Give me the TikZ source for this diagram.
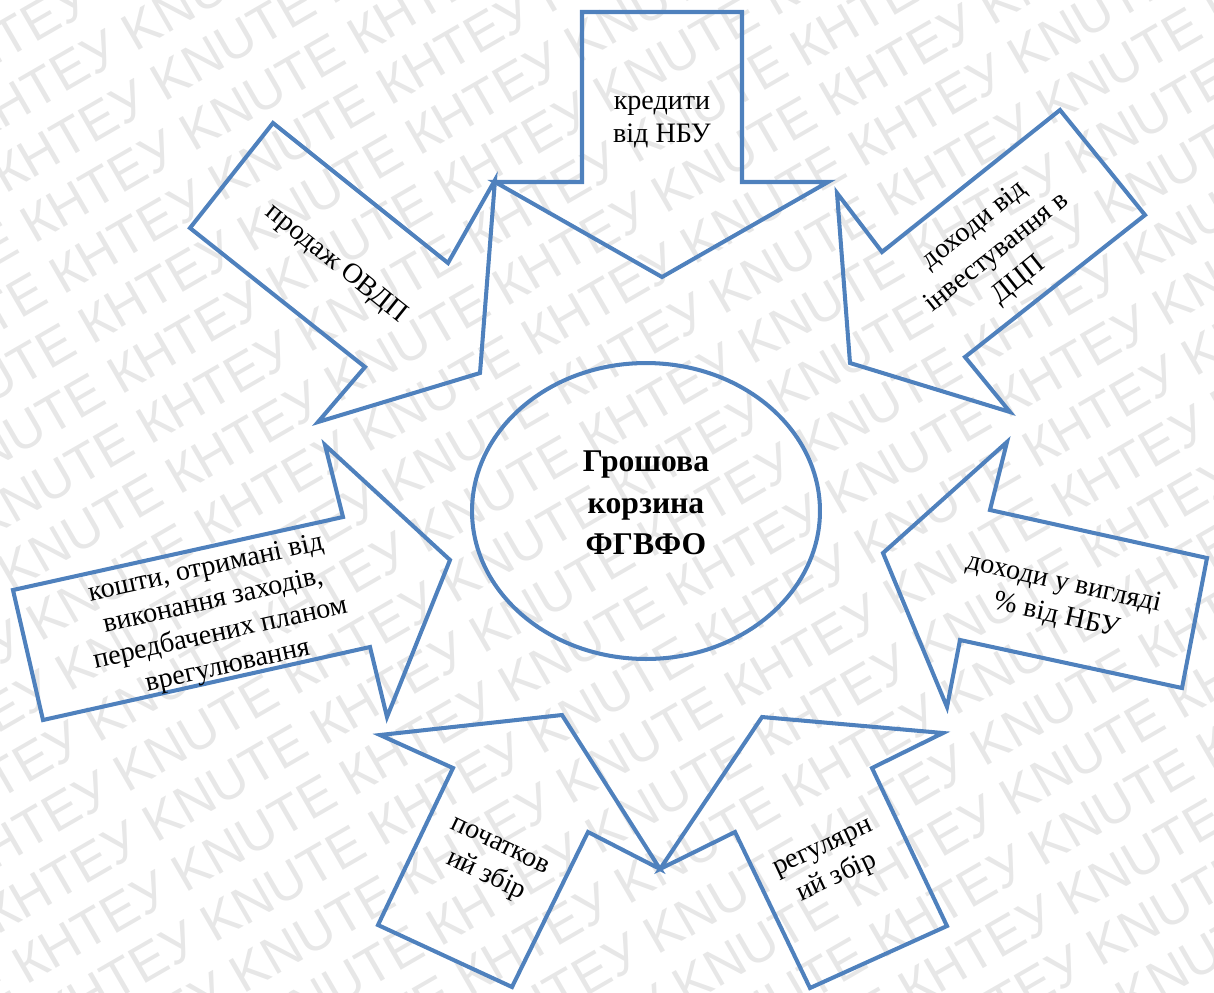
\documentclass[tikz,border=0pt]{standalone}
\usepackage{fontspec}
\setmainfont{Liberation Serif}
\newfontfamily\wmfont{Liberation Sans}
\usetikzlibrary{shapes.geometric}
\definecolor{arrowblue}{RGB}{79,129,189}
\definecolor{wmgray}{RGB}{231,231,231}
\begin{document}
\begin{tikzpicture}[x=0.02cm,y=-0.02cm,
  blockarrow/.style={draw=arrowblue,line width=2.3pt,line join=miter},
  lbl/.style={align=center,font=\rmfamily\fontsize{16}{19}\selectfont,inner sep=0pt},
  wm/.style={text=wmgray,font=\wmfont\fontsize{30}{30}\selectfont,inner sep=0pt}]
\useasboundingbox (0,0) rectangle (1214,992);
% watermark
\begin{scope}
\clip (0,0) rectangle (1214,992);
\foreach \k in {-16,...,16}{
  \node[wm,rotate=30] (wm\k) at ({607+\k*29},{496+\k*50.2})
    {КНТЕУ KNUTE КНТЕУ KNUTE КНТЕУ KNUTE КНТЕУ KNUTE КНТЕУ KNUTE КНТЕУ KNUTE};
}
\end{scope}
% block arrows
\draw[blockarrow] (582,12) -- (742,12) -- (742,182) -- (828,182) -- (662,277) -- (495,182) -- (582,182) -- cycle;
\draw[blockarrow] (1060,110) -- (1145,215) -- (965,357) -- (1010,412) -- (850,363) -- (837,193) -- (882,252) -- cycle;
\draw[blockarrow] (1007,442) -- (990,510) -- (1207,558) -- (1182,688) -- (960,640) -- (947,707) -- (883,553) -- cycle;
\draw[blockarrow] (762,717) -- (943,733) -- (872,768) -- (947,926) -- (810,988) -- (735,832) -- (660,869) -- cycle;
\draw[blockarrow] (562,715) -- (660,869) -- (588,832) -- (512,987) -- (378,925) -- (453,768) -- (380,735) -- cycle;
\draw[blockarrow] (13,590) -- (343,517) -- (325,445) -- (450,560) -- (387,717) -- (370,647) -- (43,720) -- cycle;
\draw[blockarrow] (273,123) -- (448,263) -- (495,180) -- (480,373) -- (318,422) -- (365,367) -- (190,228) -- cycle;
% centre
\node[ellipse,draw=arrowblue,line width=2.3pt,minimum width=6.96cm,minimum height=5.92cm,inner sep=0pt] (basket) at (646,511) {};
\node[align=center,inner sep=0pt,font=\rmfamily\fontsize{18}{23.5}\selectfont\bfseries] (baskettext) at (646,503)
  {Грошова\\корзина\\ФГВФО};
% labels
\node[lbl] (credits) at (662,122) {кредити\\від НБУ};
\node[lbl,rotate=38.6,font=\rmfamily\fontsize{16}{20}\selectfont] (invest) at (997,253) {доходи від\\інвестування в\\ДЦП};
\node[lbl,rotate=-12.5] (interest) at (1060,600) {доходи у вигляді\\\% від НБУ};
\node[lbl,rotate=25] (regular) at (831,865) {регулярн\\ий збір};
\node[lbl,rotate=-25.3] (initial) at (492,863) {початков\\ий збір};
\node[lbl,rotate=12.5] (plan) at (217,618) {кошти, отримані від\\виконання заходів,\\передбачених  планом\\врегулювання};
\node[lbl,rotate=-38.7] (bonds) at (336,264) {продаж ОВДП};
\end{tikzpicture}
\end{document}
